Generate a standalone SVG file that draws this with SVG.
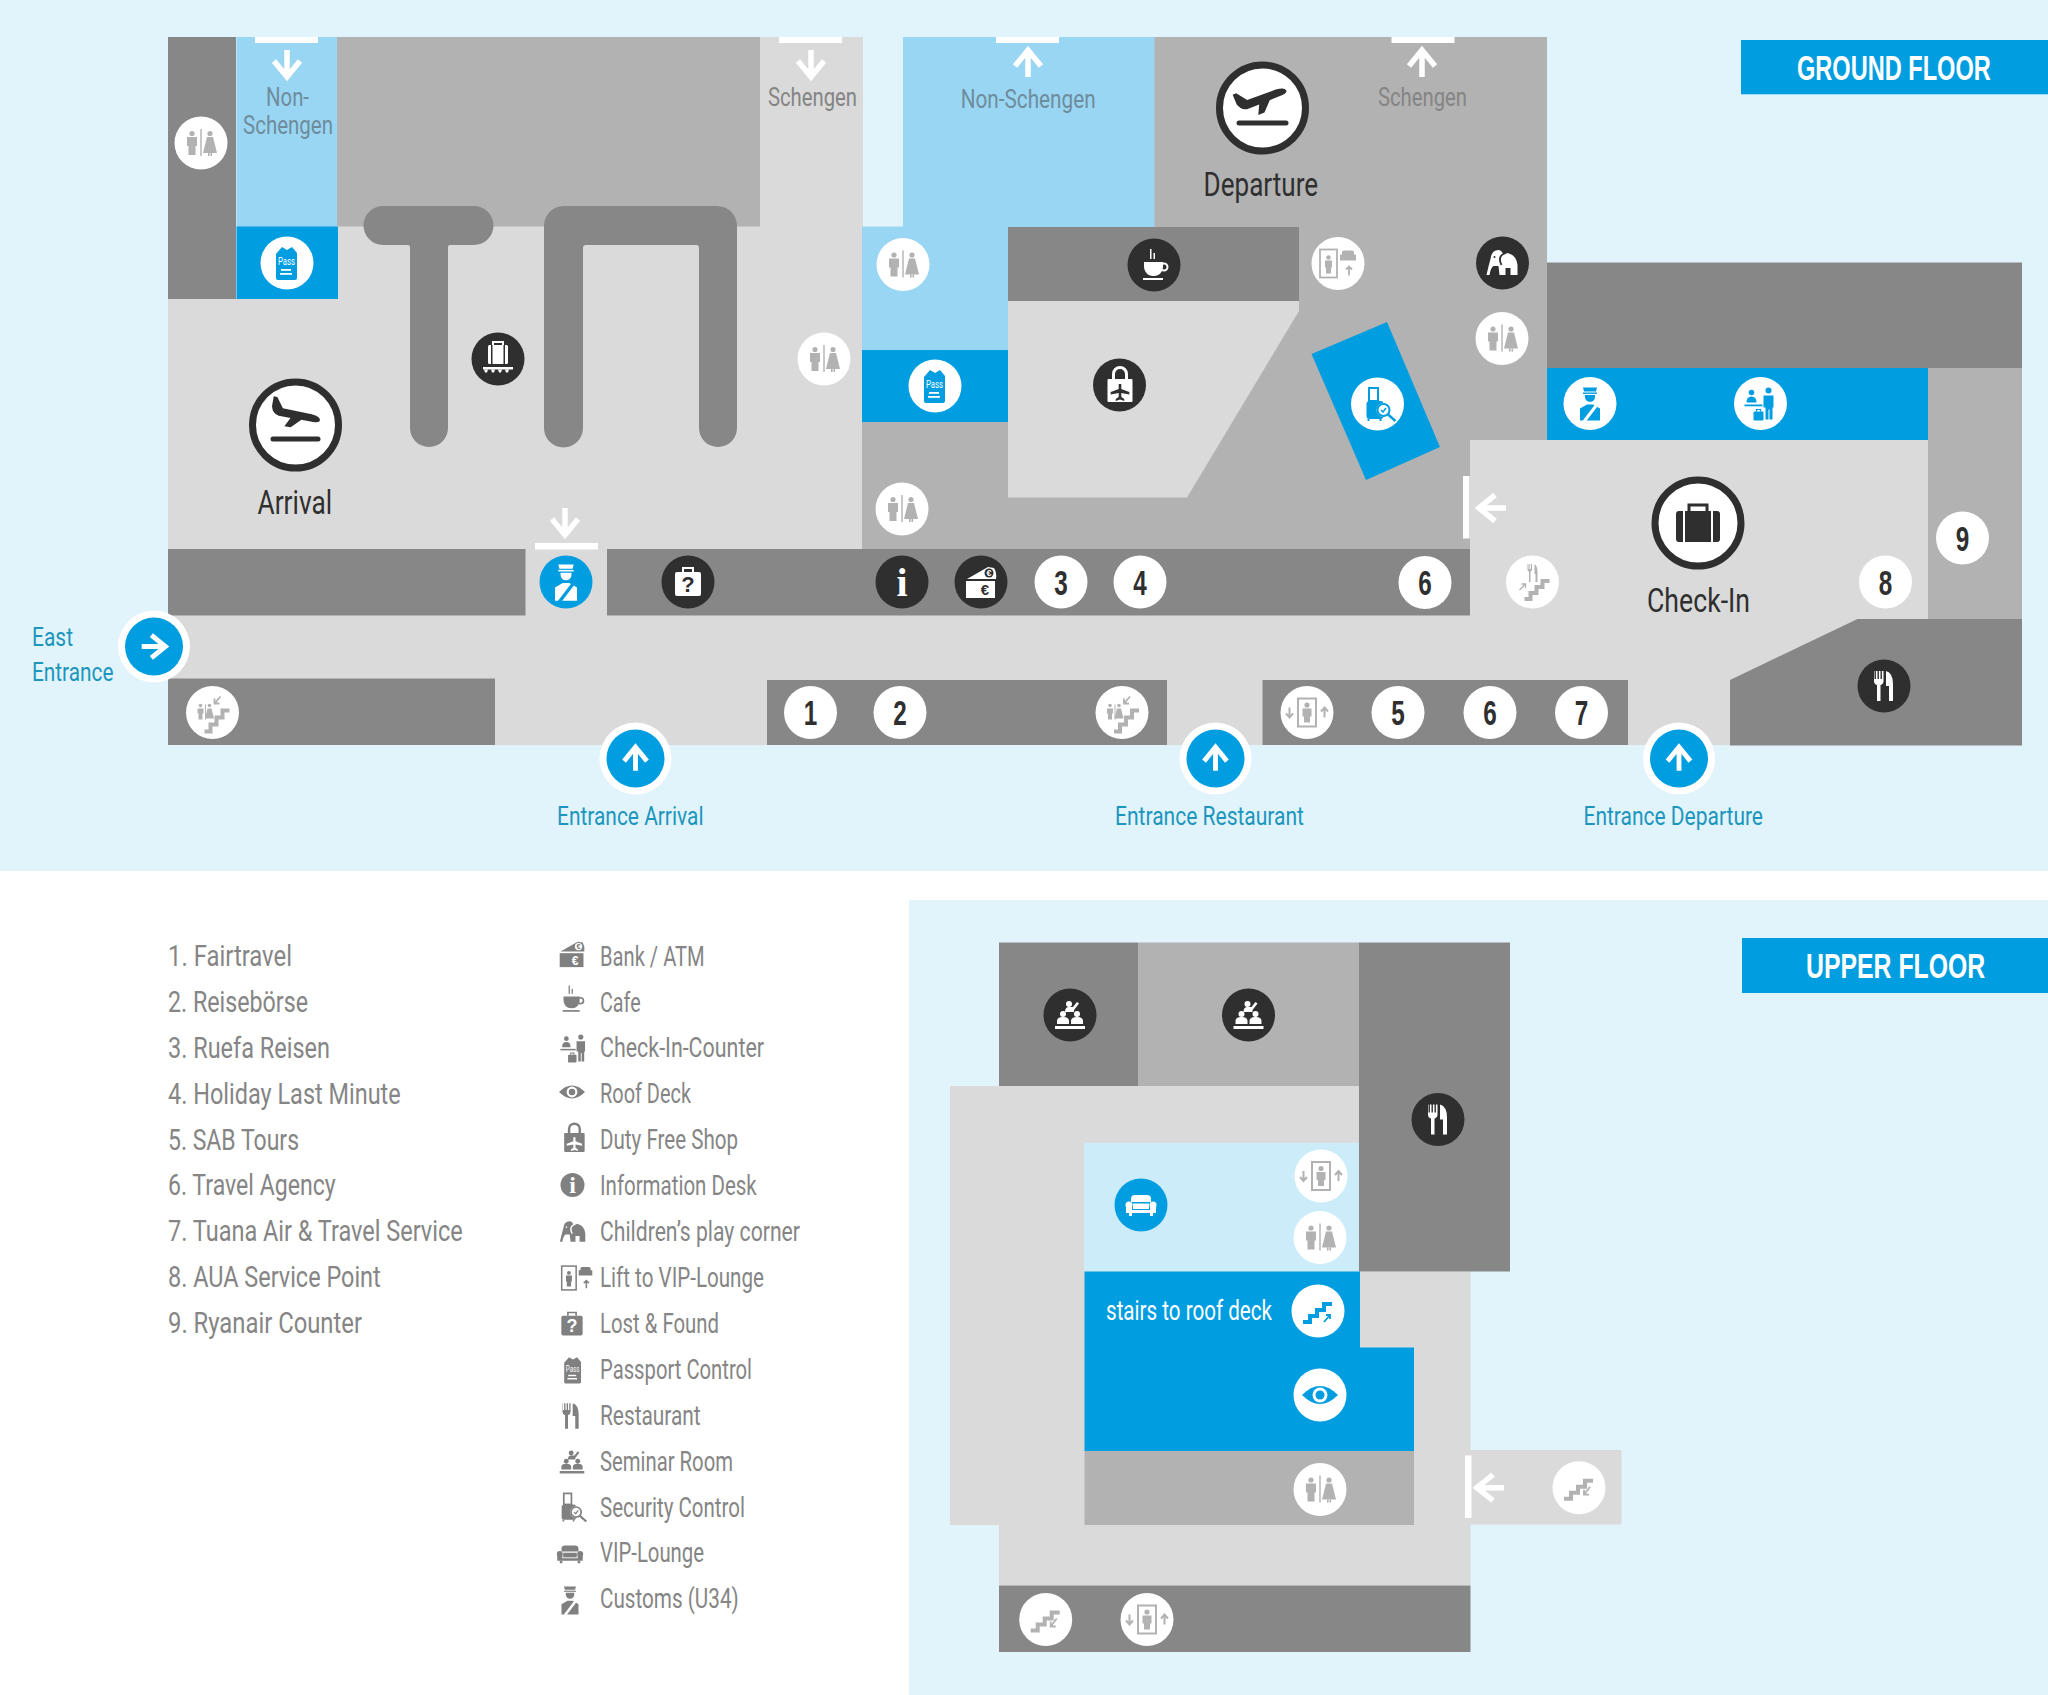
<svg xmlns="http://www.w3.org/2000/svg" width="2048" height="1695" viewBox="0 0 2048 1695">
<style>
text{font-family:"Roboto","Liberation Sans",sans-serif;font-weight:400;}
.sign{font-size:26px;fill:#6f8c9c}
.sg{font-size:26px;fill:#858585}
.big{font-size:34px;fill:#2f2f2f}
.ent{font-size:26px;fill:#1c96bd}
.leg{font-size:28px;fill:#858585}
.legn{font-size:30px;fill:#858585}
.head{font-size:36px;font-weight:700;fill:#fff;font-family:"Liberation Sans","Roboto",sans-serif}
.num{font-size:35px;font-weight:700;fill:#2f2f2f;text-anchor:middle;font-family:"Liberation Sans",sans-serif}
.wt{font-size:28px;fill:#fff}
.g1{fill:#dadada}.g2{fill:#b2b2b2}.g3{fill:#878787}.bl{fill:#009ee0}.lb{fill:#99d6f3}.vl{fill:#cdecf9}.wh{fill:#fff}
.arr{fill:none;stroke:#fff;stroke-width:5.500}
.wg{color:#b2b2b2;--c2:#fff}.wg>circle{fill:#fff}
.kw{color:#fff;--c2:#2f2f2f}.kw>circle{fill:#2f2f2f}
.wb{color:#009ee0;--c2:#fff}.wb>circle{fill:#fff}
.bw{color:#fff;--c2:#009ee0}.bw>circle{fill:#009ee0}
.lg{color:#808080;--c2:#fff}
.ring{fill:#fff;stroke:#2f2f2f;stroke-width:7}
</style>
<defs>
<g id="i-arrow"><path class="arr" d="M0 14V-13M-13 3L0-13L13 3"/></g>
<g id="i-wc" fill="currentColor"><circle cx="-9" cy="-9.500" r="2.600"/><path d="M-14-6h10v9h-1.500v9h-7v-9h-1.500z"/><rect x="-.7" y="-14" width="1.400" height="27"/><circle cx="9" cy="-9.500" r="2.600"/><path d="M6-6h6l4 16h-14z"/><path d="M7 10h1.600v3h-1.600zM9.500 10h1.600v3h-1.600z"/></g>
<g id="i-pass" fill="currentColor"><path d="M-11-9L-5-16L0-13L5-16L10-10V15Q10 17 8 17H-9Q-11 17-11 15Z"/><text x="-.5" y="2" textLength="17" lengthAdjust="spacingAndGlyphs" text-anchor="middle" style="font-size:11px;font-weight:400;fill:var(--c2)">Pass</text><rect x="-6" y="6" width="10" height="1.800" style="fill:var(--c2)"/><rect x="-7" y="10" width="12" height="1.800" style="fill:var(--c2)"/></g>
<g id="i-bag" fill="currentColor"><rect x="-10" y="-14" width="20" height="19" rx="1.500"/><path d="M-5-14v-3h10v3" fill="none" stroke="currentColor" stroke-width="2"/><rect x="-7" y="-14" width="1.500" height="19" style="fill:var(--c2)"/><rect x="5.500" y="-14" width="1.500" height="19" style="fill:var(--c2)"/><rect x="-15" y="8" width="30" height="2.500"/><path d="M-14 10.500h4l-1 3h-2zM-7 10.500h4l-1 3h-2zM0 10.500h4l-1 3h-2zM7 10.500h4l-1 3h-2z"/></g>
<g id="i-plane" fill="#2f2f2f"><path d="M-27-6L-27-17L-23-17L-15-6L17-5Q27-4 27 0Q27 3 20 3L7 3L-3 13L-10 13L-5 3L-18 3Q-25 2-27-6Z"/></g>
<g id="i-case" fill="#2f2f2f"><rect x="-22" y="-12" width="44" height="31" rx="3"/><path d="M-9-12v-6h18v6" fill="none" stroke="#2f2f2f" stroke-width="3"/><rect x="-15" y="-12" width="2" height="31" fill="#fff"/><rect x="13" y="-12" width="2" height="31" fill="#fff"/></g>
<g id="i-cafe" fill="currentColor"><path d="M-10-3H9V1C9 7 5 11 0 11H-1C-6 11-10 7-10 1Z"/><circle cx="10" cy="2" r="3.500" fill="none" stroke="currentColor" stroke-width="2"/><rect x="-4" y="-16" width="1.500" height="10"/><rect x="-.5" y="-12" width="1.500" height="6"/><rect x="-11" y="13" width="20" height="2"/></g>
<g id="i-duty" fill="currentColor"><rect x="-12" y="-6" width="25" height="23" rx="1"/><path d="M-6-6v-5a6.500 6.500 0 0 1 13 0v5" fill="none" stroke="currentColor" stroke-width="3"/><path d="M-.8-1h2.600v5l8 3v2.500l-8-1.500v4l3 2v2l-4.300-1.500-4.300 1.500v-2l3-2v-4l-8 1.500v-2.500l8-3z" style="fill:var(--c2)"/></g>
<g id="i-lift" fill="currentColor"><rect x="-9" y="-14" width="18" height="28" fill="none" stroke="currentColor" stroke-width="2"/><circle cx="0" cy="-7.500" r="2.600"/><path d="M-4.500-4h9v8h-1.500v6h-6v-6h-1.500z"/><path d="M-17.500-5v10M-21 1l3.500 4l3.500-4M17.500 5v-10M14-1l3.500-4l3.500 4" fill="none" stroke="currentColor" stroke-width="2"/></g>
<g id="i-liftvip" fill="currentColor"><rect x="-18" y="-14" width="17" height="28" fill="none" stroke="currentColor" stroke-width="1.800"/><circle cx="-9.500" cy="-6" r="2.300"/><path d="M-13-3h7v7h-1v6h-5v-6h-1z"/><path d="M4-11a2 2 0 0 1 2-2h8a2 2 0 0 1 2 2v2h2v6h-16v-6h2z"/><path d="M11 12v-9M8 6l3-3l3 3" fill="none" stroke="currentColor" stroke-width="1.800"/></g>
<g id="i-eleph" fill="currentColor"><path d="M-16 12H-13Q-12 5-9 3H-4L-3 12H3V5H8V12H15V2Q14-8 5-10L1-8Q-1-13-4-13Q-11-13-12-4Q-14 3-16 12Z"/><path d="M1-9Q-5-6-1 2" fill="none" style="stroke:var(--c2)" stroke-width="1.800"/><circle cx="-8" cy="-6" r="1" style="fill:var(--c2)"/></g>
<g id="i-sec" fill="currentColor"><rect x="-11" y="-3" width="17" height="18" rx="3"/><rect x="-8.500" y="-16" width="9" height="13" fill="none" stroke="currentColor" stroke-width="2"/><path d="M-9 15v2M3 15v2" stroke="currentColor" stroke-width="2"/><circle cx="6" cy="6" r="7" style="fill:var(--c2)"/><circle cx="6" cy="6" r="6" fill="none" stroke="currentColor" stroke-width="2"/><path d="M10.500 10.500L18 17" stroke="currentColor" stroke-width="2.500"/><path d="M3.500 6l2 2l3-4" fill="none" stroke="currentColor" stroke-width="1.500"/></g>
<g id="i-customs" fill="currentColor"><path d="M-7-16h14l-1 4h-12z"/><rect x="-7" y="-11" width="14" height="1.400"/><path d="M-5-8.500h10v2a5 5 0 0 1-10 0z"/><path d="M-10 5L-3 1H3L10 5V17H-10Z"/><path d="M-6 18L7 1" fill="none" style="stroke:var(--c2)" stroke-width="3"/></g>
<g id="i-counter" fill="currentColor"><circle cx="-9" cy="-11" r="2.800"/><path d="M-14-1Q-14-7-9-7T-4-1Z"/><rect x="-16" y="1" width="18" height="1.800"/><circle cx="8" cy="-13" r="3"/><path d="M3-8H13V4H12V16H9V6H8V16H5V4H3Z"/><rect x="-7" y="8" width="10" height="9" rx="1"/><path d="M-4 8v-2h4v2" fill="none" stroke="currentColor" stroke-width="1.200"/></g>
<g id="i-lost" fill="currentColor"><rect x="-13" y="-10" width="26" height="24" rx="2"/><path d="M-5-10v-4h10v4" fill="none" stroke="currentColor" stroke-width="2"/><text x="0" y="10" text-anchor="middle" style="font-size:22px;font-weight:700;font-family:'Liberation Sans',sans-serif;fill:var(--c2)">?</text></g>
<g id="i-bank" fill="currentColor"><path d="M-14-3L7-15L13-14Q16-9 15-3Z"/><circle cx="8" cy="-9" r="4.500" style="fill:var(--c2)"/><text x="8" y="-6" text-anchor="middle" style="font-size:9px;font-weight:700;font-family:'Liberation Sans',sans-serif;fill:currentColor">€</text><rect x="-15" y="-1" width="29" height="17"/><text x="4" y="13" text-anchor="middle" style="font-size:15px;font-weight:700;font-family:'Liberation Sans',sans-serif;fill:var(--c2)">€</text></g>
<g id="i-rest" fill="currentColor"><path d="M-10-15v10q0 3 3 4v16h3.500v-16q3-1 3-4v-10h-1.600v8h-1.400v-8h-1.600v8h-1.400v-8h-1.600v8h-1.400v-8z"/><path d="M2-15Q9-13 9-2V15H5V0H2Z"/></g>
<g id="i-seminar" fill="currentColor"><circle cx="-1" cy="-11" r="3"/><path d="M-5-3Q-5-8-1-8H3L7-13L9-11.500L4-5V-3Z"/><circle cx="-7" cy="-1" r="3"/><path d="M-13 9V6Q-13 2-7 2T-1 6V9Z"/><circle cx="7" cy="-1" r="3"/><path d="M1 9V6Q1 2 7 2T13 6V9Z"/><rect x="-15" y="11" width="30" height="3"/></g>
<g id="i-eye"><path fill="currentColor" d="M-18 0Q0-18 18 0Q0 18-18 0Z"/><circle r="7.500" style="fill:var(--c2)"/><circle r="4.500" fill="currentColor"/></g>
<g id="i-sofa" fill="currentColor"><path d="M-10-3V-6Q-10-10-6-10H6Q10-10 10-6V-3Z"/><path d="M-8-1.500H8V4H-8Z"/><circle cx="-12" cy="0" r="3.500"/><circle cx="12" cy="0" r="3.500"/><path d="M-15 0H-9V5H9V0H15V8H-15Z"/><path d="M-12 8h3v3h-3zM9 8h3v3h-3z"/></g>
<g id="i-stdown" fill="none" stroke="currentColor"><path d="M-15 11h7v-6h7v-6h7v-6h8" stroke-width="4"/><path d="M11-1L5 7M5 2v5h5" stroke-width="1.800"/></g>
<g id="i-stup" fill="none" stroke="currentColor"><path d="M-15 11h7v-6h7v-6h7v-6h8" stroke-width="4"/><path d="M6 11L12 4M8 4h4v4" stroke-width="1.800"/></g>
<g id="i-stwc"><path fill="none" stroke="currentColor" stroke-width="4" d="M-8 19h6v-7h6v-7h6v-7h7"/><path fill="none" stroke="currentColor" stroke-width="1.800" d="M8-16L2-9M2-14v5h5"/><g fill="currentColor"><circle cx="-12" cy="-7" r="1.800"/><path d="M-15-4h6v5h-1v6h-4v-6h-1z"/><rect x="-7.500" y="-8" width="1" height="15"/><circle cx="-3" cy="-7" r="1.800"/><path d="M-5-4h4l2.500 10h-9z"/></g></g>
<g id="i-strest"><path fill="none" stroke="currentColor" stroke-width="4" d="M-8 17h6v-6h6v-6h6v-6h7"/><path fill="none" stroke="currentColor" stroke-width="1.400" d="M-13 8l6-6M-11 2h4v4"/><g fill="currentColor"><path d="M-5-18v6l1.500 2v10h1.500v-10l1.500-2v-6h-1v5h-.8v-5h-.8v5h-.8v-5z"/><path d="M2-18q3 2 3 8v10h-2v-8h-1z"/></g></g>
</defs>

<g id="backgrounds">
<rect width="2048" height="1695" class="wh"/>
<rect width="2048" height="871" fill="#e1f4fc"/>
<rect x="909" y="900" width="1139" height="795" fill="#e1f4fc"/>
</g>

<g id="ground-floor-plan">
<rect x="168" y="298" width="695" height="447" class="g1"/>
<rect x="760" y="37" width="103" height="262" class="g1"/>
<rect x="337" y="226" width="424" height="73" class="g1"/>
<rect x="168" y="37" width="68" height="262" class="g3"/>
<rect x="236.500" y="37" width="100.500" height="190" class="lb"/>
<rect x="236.500" y="226.500" width="101.500" height="72.500" class="bl"/>
<rect x="337" y="37" width="423" height="189.500" class="g2"/>
<path class="g3" d="M383 206H474A19.500 19.500 0 0 1 474 245H450Q448 245 448 247V428A19 19 0 0 1 410 428V247Q410 245 408 245H383A19.500 19.500 0 0 1 383 206Z"/>
<path class="g3" d="M564 206H717A20 20 0 0 1 737 226V428A19 19 0 0 1 699 428V248Q699 245 696 245H586Q583 245 583 248V428A19.500 19.500 0 0 1 544 428V226A20 20 0 0 1 564 206Z"/>
<path class="g2" d="M1154 37H1547V440H1470V549H862V422H1154Z"/>
<rect x="903" y="37" width="251.500" height="190" class="lb"/>
<rect x="862" y="226.500" width="147" height="124" class="lb"/>
<rect x="862" y="350" width="146" height="72" class="bl"/>
<rect x="1008" y="227" width="291" height="74" class="g3"/>
<path class="g1" d="M1008 301H1299V311L1187 497.500H1008Z"/>
<path class="bl" d="M1311.500 354L1387 322L1440 447L1366 480Z"/>
<rect x="1547" y="262.500" width="475" height="106" class="g3"/>
<rect x="1927" y="368" width="95" height="252" class="g2"/>
<rect x="1547" y="368" width="381" height="72" class="bl"/>
<rect x="168" y="549" width="1562" height="196" class="g1"/>
<rect x="1470" y="440" width="458" height="305" class="g1"/>
<path class="g3" d="M1857.500 619H2022V745.500H1730V680Z"/>
<rect x="168" y="549" width="357.500" height="66.500" class="g3"/>
<rect x="607" y="549" width="863" height="66.500" class="g3"/>
<rect x="168" y="678.500" width="327" height="66.500" class="g3"/>
<rect x="767" y="680" width="400" height="65" class="g3"/>
<rect x="1262.500" y="680" width="365.500" height="65" class="g3"/>
<rect x="255" y="37" width="63" height="6" class="wh"/>
<rect x="779" y="37" width="63" height="6" class="wh"/>
<rect x="996" y="37" width="63" height="6" class="wh"/>
<rect x="1391.500" y="37" width="63" height="6" class="wh"/>
<rect x="535" y="543" width="63" height="6.500" class="wh"/>
<rect x="1463" y="476" width="6.500" height="62.500" class="wh"/>
<use href="#i-arrow" transform="translate(287 64) rotate(180)"/>
<use href="#i-arrow" transform="translate(811 64) rotate(180)"/>
<use href="#i-arrow" transform="translate(1028 63)"/>
<use href="#i-arrow" transform="translate(1422 63)"/>
<use href="#i-arrow" transform="translate(565 522) rotate(180)"/>
<use href="#i-arrow" transform="translate(1492 508) rotate(-90)"/>
</g>

<g id="ground-labels">
<text class="sign" x="266" y="105.700" textLength="43" lengthAdjust="spacingAndGlyphs">Non-</text>
<text class="sign" x="243" y="134" textLength="90" lengthAdjust="spacingAndGlyphs">Schengen</text>
<text class="sg" x="768" y="105.700" textLength="89" lengthAdjust="spacingAndGlyphs">Schengen</text>
<text class="sign" x="960.700" y="108" textLength="135" lengthAdjust="spacingAndGlyphs">Non-Schengen</text>
<text class="sg" x="1378" y="106" textLength="89" lengthAdjust="spacingAndGlyphs">Schengen</text>
<text class="big" x="257.600" y="514" textLength="74.500" lengthAdjust="spacingAndGlyphs">Arrival</text>
<text class="big" x="1203.600" y="196" textLength="114.500" lengthAdjust="spacingAndGlyphs">Departure</text>
<text class="big" x="1647" y="612" textLength="103" lengthAdjust="spacingAndGlyphs">Check-In</text>
<text class="ent" x="32" y="646" textLength="41" lengthAdjust="spacingAndGlyphs">East</text>
<text class="ent" x="32" y="681" textLength="81.500" lengthAdjust="spacingAndGlyphs">Entrance</text>
<text class="ent" x="557" y="824.500" textLength="146.500" lengthAdjust="spacingAndGlyphs">Entrance Arrival</text>
<text class="ent" x="1115" y="825" textLength="189" lengthAdjust="spacingAndGlyphs">Entrance Restaurant</text>
<text class="ent" x="1583.500" y="825" textLength="179.500" lengthAdjust="spacingAndGlyphs">Entrance Departure</text>
</g>

<g id="ground-title"><rect x="1741" y="40" width="307" height="54.300" class="bl"/><text class="head" transform="translate(1797 79.500) scale(.655 1)">GROUND FLOOR</text></g>

<g id="arrival-hub" transform="translate(295.500 425)"><circle r="43" class="ring"/><use href="#i-plane" transform="translate(0 -9) rotate(10) scale(.92)"/><rect x="-25" y="11.500" width="50" height="5" rx="2.500" fill="#2f2f2f"/></g>
<g id="departure-hub" transform="translate(1262.500 108)"><circle r="43" class="ring"/><use href="#i-plane" transform="translate(0 -8) rotate(-22) scale(.95)"/><rect x="-26" y="12.500" width="52" height="5" rx="2.500" fill="#2f2f2f"/></g>
<g id="checkin-hub" transform="translate(1698 523)"><circle r="43" class="ring"/><use href="#i-case"/></g>

<g id="n-wc1" class="wg" transform="translate(201 143)"><circle r="26.500"/><use href="#i-wc"/></g>
<g id="n-pass1" class="wb" transform="translate(287 263)"><circle r="26.500"/><use href="#i-pass"/></g>
<g id="n-baggage" class="kw" transform="translate(498 359)"><circle r="26.500"/><use href="#i-bag"/></g>
<g id="n-wc2" class="wg" transform="translate(824 359)"><circle r="26.500"/><use href="#i-wc"/></g>
<g id="n-wc3" class="wg" transform="translate(903 264.500)"><circle r="26.500"/><use href="#i-wc"/></g>
<g id="n-pass2" class="wb" transform="translate(935 386)"><circle r="26.500"/><use href="#i-pass"/></g>
<g id="n-wc4" class="wg" transform="translate(902 509)"><circle r="26.500"/><use href="#i-wc"/></g>
<g id="n-cafe" class="kw" transform="translate(1154 265)"><circle r="26.500"/><use href="#i-cafe"/></g>
<g id="n-duty" class="kw" transform="translate(1119.500 385)"><circle r="26.500"/><use href="#i-duty"/></g>
<g id="n-liftvip" class="wg" transform="translate(1338 263.500)"><circle r="26.500"/><use href="#i-liftvip"/></g>
<g id="n-eleph" class="kw" transform="translate(1502.500 263)"><circle r="26.500"/><use href="#i-eleph"/></g>
<g id="n-wc5" class="wg" transform="translate(1502 338.500)"><circle r="26.500"/><use href="#i-wc"/></g>
<g id="n-security" class="wb" transform="translate(1377.500 404)"><circle r="26.500"/><use href="#i-sec"/></g>
<g id="n-customs2" class="wb" transform="translate(1590 403.500)"><circle r="26.500"/><use href="#i-customs"/></g>
<g id="n-counter" class="wb" transform="translate(1760.500 403.500)"><circle r="26.500"/><use href="#i-counter"/></g>
<g id="n-customs1" class="bw" transform="translate(566 582)"><circle r="26.500"/><use href="#i-customs" transform="scale(1.100)"/></g>
<g id="n-lost" class="kw" transform="translate(688 582)"><circle r="26.500"/><use href="#i-lost"/></g>
<g id="n-info" class="kw" transform="translate(902 582)"><circle r="26.500"/><text x="0" y="14" text-anchor="middle" style="font-size:40px;font-weight:700;font-family:'Liberation Serif',serif;fill:#fff">i</text></g>
<g id="n-bank" class="kw" transform="translate(981 582)"><circle r="26.500"/><use href="#i-bank"/></g>
<g id="n-3" class="wg" transform="translate(1061 582)"><circle r="26.500"/><text class="num" y="12.500" textLength="13.500" lengthAdjust="spacingAndGlyphs">3</text></g>
<g id="n-4" class="wg" transform="translate(1140 582)"><circle r="26.500"/><text class="num" y="12.500" textLength="13.500" lengthAdjust="spacingAndGlyphs">4</text></g>
<g id="n-6a" class="wg" transform="translate(1425 582.500)"><circle r="26.500"/><text class="num" y="12.500" textLength="13.500" lengthAdjust="spacingAndGlyphs">6</text></g>
<g id="n-strest" class="wg" transform="translate(1532.500 582)"><circle r="26.500"/><use href="#i-strest"/></g>
<g id="n-8" class="wg" transform="translate(1885.500 582)"><circle r="26.500"/><text class="num" y="12.500" textLength="13.500" lengthAdjust="spacingAndGlyphs">8</text></g>
<g id="n-9" class="wg" transform="translate(1962.500 538)"><circle r="26.500"/><text class="num" y="12.500" textLength="13.500" lengthAdjust="spacingAndGlyphs">9</text></g>
<g id="n-rest1" class="kw" transform="translate(1884 686)"><circle r="26.500"/><use href="#i-rest"/></g>
<g id="n-stwc1" class="wg" transform="translate(212.500 712.500)"><circle r="26.500"/><use href="#i-stwc"/></g>
<g id="n-1" class="wg" transform="translate(810.500 712.500)"><circle r="26.500"/><text class="num" y="12.500" textLength="13.500" lengthAdjust="spacingAndGlyphs">1</text></g>
<g id="n-2" class="wg" transform="translate(900 712.500)"><circle r="26.500"/><text class="num" y="12.500" textLength="13.500" lengthAdjust="spacingAndGlyphs">2</text></g>
<g id="n-stwc2" class="wg" transform="translate(1122 712.500)"><circle r="26.500"/><use href="#i-stwc"/></g>
<g id="n-lift1" class="wg" transform="translate(1307 712.500)"><circle r="26.500"/><use href="#i-lift"/></g>
<g id="n-5" class="wg" transform="translate(1398 712.500)"><circle r="26.500"/><text class="num" y="12.500" textLength="13.500" lengthAdjust="spacingAndGlyphs">5</text></g>
<g id="n-6b" class="wg" transform="translate(1490 712.500)"><circle r="26.500"/><text class="num" y="12.500" textLength="13.500" lengthAdjust="spacingAndGlyphs">6</text></g>
<g id="n-7" class="wg" transform="translate(1581.500 712.500)"><circle r="26.500"/><text class="num" y="12.500" textLength="13.500" lengthAdjust="spacingAndGlyphs">7</text></g>

<g id="entrance-east" transform="translate(154 646.500)"><circle r="36" class="wh"/><circle r="29" class="bl"/><use href="#i-arrow" transform="rotate(90) scale(.88)"/></g>
<g id="entrance-arrival" transform="translate(635.500 758.500)"><circle r="36" class="wh"/><circle r="29" class="bl"/><use href="#i-arrow" transform="scale(.88)"/></g>
<g id="entrance-restaurant" transform="translate(1215.500 758.500)"><circle r="36" class="wh"/><circle r="29" class="bl"/><use href="#i-arrow" transform="scale(.88)"/></g>
<g id="entrance-departure" transform="translate(1679 758.500)"><circle r="36" class="wh"/><circle r="29" class="bl"/><use href="#i-arrow" transform="scale(.88)"/></g>

<g id="legend-numbers">
<text class="legn" x="168" y="966" textLength="124" lengthAdjust="spacingAndGlyphs">1. Fairtravel</text>
<text class="legn" x="168" y="1012" textLength="140" lengthAdjust="spacingAndGlyphs">2. Reisebörse</text>
<text class="legn" x="168" y="1057.800" textLength="162" lengthAdjust="spacingAndGlyphs">3. Ruefa Reisen</text>
<text class="legn" x="168" y="1103.600" textLength="232.700" lengthAdjust="spacingAndGlyphs">4. Holiday Last Minute</text>
<text class="legn" x="168" y="1149.500" textLength="131" lengthAdjust="spacingAndGlyphs">5. SAB Tours</text>
<text class="legn" x="168" y="1195.300" textLength="167.700" lengthAdjust="spacingAndGlyphs">6. Travel Agency</text>
<text class="legn" x="168" y="1241.200" textLength="294.700" lengthAdjust="spacingAndGlyphs">7. Tuana Air &amp; Travel Service</text>
<text class="legn" x="168" y="1287" textLength="212.700" lengthAdjust="spacingAndGlyphs">8. AUA Service Point</text>
<text class="legn" x="168" y="1333" textLength="194" lengthAdjust="spacingAndGlyphs">9. Ryanair Counter</text>
</g>

<g id="legend-symbols" class="lg">
<use href="#i-bank" transform="translate(572 954) scale(.82)"/><text class="leg" x="600" y="965.700" textLength="104.700" lengthAdjust="spacingAndGlyphs">Bank / ATM</text>
<use href="#i-cafe" transform="translate(572 999) scale(.85)"/><text class="leg" x="600" y="1011.500" textLength="40.700" lengthAdjust="spacingAndGlyphs">Cafe</text>
<use href="#i-counter" transform="translate(574 1048) scale(.85)"/><text class="leg" x="600" y="1057.400" textLength="164" lengthAdjust="spacingAndGlyphs">Check-In-Counter</text>
<use href="#i-eye" transform="translate(572 1092) scale(.72)"/><text class="leg" x="600" y="1103.200" textLength="91" lengthAdjust="spacingAndGlyphs">Roof Deck</text>
<use href="#i-duty" transform="translate(574 1138) scale(.82)"/><text class="leg" x="600" y="1149.100" textLength="138" lengthAdjust="spacingAndGlyphs">Duty Free Shop</text>
<circle cx="572.500" cy="1185" r="12" fill="#808080"/><text x="572.500" y="1193" text-anchor="middle" style="font-size:24px;font-weight:700;font-family:'Liberation Serif',serif;fill:#fff">i</text><text class="leg" x="600" y="1194.900" textLength="156.700" lengthAdjust="spacingAndGlyphs">Information Desk</text>
<use href="#i-eleph" transform="translate(573 1232) scale(.82)"/><text class="leg" x="600" y="1240.800" textLength="200" lengthAdjust="spacingAndGlyphs">Children’s play corner</text>
<use href="#i-liftvip" transform="translate(577 1278) scale(.85)"/><text class="leg" x="600" y="1286.800" textLength="164" lengthAdjust="spacingAndGlyphs">Lift to VIP-Lounge</text>
<use href="#i-lost" transform="translate(572 1324) scale(.82)"/><text class="leg" x="600" y="1333" textLength="119" lengthAdjust="spacingAndGlyphs">Lost &amp; Found</text>
<use href="#i-pass" transform="translate(573 1370) scale(.8)"/><text class="leg" x="600" y="1379" textLength="152" lengthAdjust="spacingAndGlyphs">Passport Control</text>
<use href="#i-rest" transform="translate(571 1416) scale(.85)"/><text class="leg" x="600" y="1425" textLength="100.700" lengthAdjust="spacingAndGlyphs">Restaurant</text>
<use href="#i-seminar" transform="translate(572 1462) scale(.82)"/><text class="leg" x="600" y="1470.800" textLength="133" lengthAdjust="spacingAndGlyphs">Seminar Room</text>
<use href="#i-sec" transform="translate(571 1507) scale(.85)"/><text class="leg" x="600" y="1516.500" textLength="145" lengthAdjust="spacingAndGlyphs">Security Control</text>
<use href="#i-sofa" transform="translate(570 1554) scale(.85)"/><text class="leg" x="600" y="1562.300" textLength="104" lengthAdjust="spacingAndGlyphs">VIP-Lounge</text>
<use href="#i-customs" transform="translate(570 1600) scale(.85)"/><text class="leg" x="600" y="1608" textLength="138.700" lengthAdjust="spacingAndGlyphs">Customs (U34)</text>
</g>

<g id="upper-floor-plan">
<path class="g1" d="M950 1086H1360V1271.500H1470.500V1585.500H999V1525H950Z"/>
<rect x="1470" y="1450" width="151.500" height="74.500" class="g1"/>
<rect x="999" y="942.500" width="139" height="143.500" class="g3"/>
<rect x="1138" y="942.500" width="221.500" height="143.500" class="g2"/>
<rect x="1359" y="942.500" width="151" height="329" class="g3"/>
<rect x="1084" y="1142.700" width="275" height="129" class="vl"/>
<path class="bl" d="M1084.500 1271.500H1360V1347.500H1414V1451H1084.500Z"/>
<rect x="1084.500" y="1451" width="329.500" height="74" class="g2"/>
<rect x="999" y="1585.500" width="471.500" height="66.500" class="g3"/>
<rect x="1465" y="1455.500" width="6.500" height="62.500" class="wh"/>
<use href="#i-arrow" transform="translate(1490 1487.700) rotate(-90)"/>
</g>

<g id="upper-title"><rect x="1742" y="938" width="306" height="55" class="bl"/><text class="head" transform="translate(1806 978) scale(.69 1)">UPPER FLOOR</text></g>
<text id="roof-label" class="wt" x="1106" y="1320" textLength="166" lengthAdjust="spacingAndGlyphs">stairs to roof deck</text>

<g id="u-seminar1" class="kw" transform="translate(1070 1015)"><circle r="26.500"/><use href="#i-seminar"/></g>
<g id="u-seminar2" class="kw" transform="translate(1248.500 1015)"><circle r="26.500"/><use href="#i-seminar"/></g>
<g id="u-rest" class="kw" transform="translate(1438 1119.500)"><circle r="26.500"/><use href="#i-rest"/></g>
<g id="u-vip" class="bw" transform="translate(1141 1205)"><circle r="26.500"/><use href="#i-sofa"/></g>
<g id="u-lift1" class="wg" transform="translate(1321 1176)"><circle r="26.500"/><use href="#i-lift"/></g>
<g id="u-wc1" class="wg" transform="translate(1320 1237.500)"><circle r="26.500"/><use href="#i-wc"/></g>
<g id="u-stairs1" class="wb" transform="translate(1318 1311)"><circle r="26.500"/><use href="#i-stup"/></g>
<g id="u-eye" class="wb" transform="translate(1320 1395)"><circle r="26.500"/><use href="#i-eye"/></g>
<g id="u-wc2" class="wg" transform="translate(1320 1489.500)"><circle r="26.500"/><use href="#i-wc"/></g>
<g id="u-stairs2" class="wg" transform="translate(1579 1487.700)"><circle r="26.500"/><use href="#i-stdown"/></g>
<g id="u-stairs3" class="wg" transform="translate(1045.700 1619.500)"><circle r="26.500"/><use href="#i-stdown"/></g>
<g id="u-lift2" class="wg" transform="translate(1147 1619.500)"><circle r="26.500"/><use href="#i-lift"/></g>
</svg>
